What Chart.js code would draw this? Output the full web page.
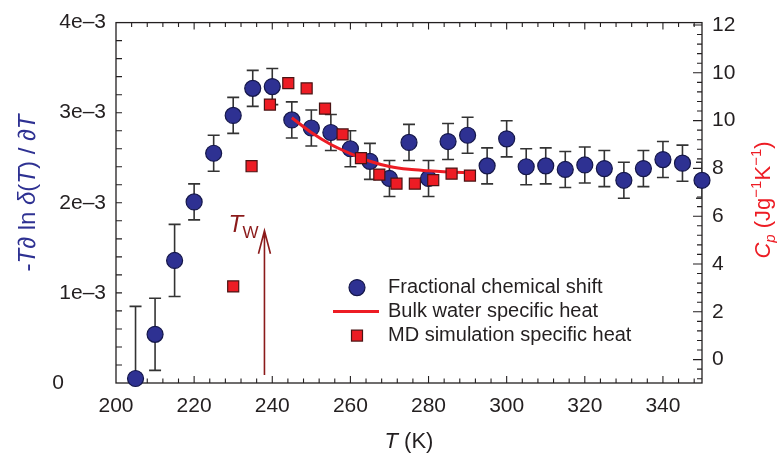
<!DOCTYPE html>
<html>
<head>
<meta charset="utf-8">
<script src="https://cdn.jsdelivr.net/npm/chart.js@4.4.0/dist/chart.umd.min.js"></script>
<style>
  html, body { margin: 0; padding: 0; background: #fff; }
</style>
</head>
<body>
<canvas id="chart" width="777" height="458"></canvas>
<script>
// === Data ===
// Fractional chemical shift: T (K), value (x1e-3), error bar half height (x1e-3)
var shiftT   = [205, 210, 215, 220, 225, 230, 235, 240, 245, 250, 255, 260, 265, 270, 275,
                280, 285, 290, 295, 300, 305, 310, 315, 320, 325, 330, 335, 340, 345, 350]
var shiftVal = [0.05, 0.54, 1.36, 2.01, 2.55, 2.97, 3.27, 3.29, 2.92, 2.83, 2.78, 2.60, 2.46, 2.27, 2.67,
                2.27, 2.68, 2.75, 2.41, 2.71, 2.40, 2.41, 2.37, 2.42, 2.38, 2.25, 2.38, 2.48, 2.44, 2.25]
var shiftErr = [0.80, 0.40, 0.40, 0.20, 0.20, 0.20, 0.20, 0.20, 0.20, 0.20, 0.20, 0.20, 0.20, 0.20, 0.20,
                0.20, 0.20, 0.20, 0.20, 0.20, 0.20, 0.20, 0.20, 0.20, 0.20, 0.20, 0.20, 0.20, 0.20, 0.20]

// MD simulation specific heat (right axis units)
var mdT  = [230, 234.7, 239.4, 244.1, 248.8, 253.5, 258, 262.7, 267.4, 271.8, 276.5, 281.2, 285.9, 290.6]
var mdCp = [3.06, 8.09, 10.67, 11.57, 11.35, 10.5, 9.42, 8.43, 7.74, 7.36, 7.36, 7.51, 7.78, 7.70]

// Bulk water specific heat (right axis units)
var bulkT  = [245, 250, 255, 260, 265, 270, 275, 280, 285, 290.6]
var bulkCp = [10.12, 9.5, 9.0, 8.62, 8.3, 8.08, 7.96, 7.9, 7.85, 7.81]

// Axes
var xTicks      = [200, 220, 240, 260, 280, 300, 320, 340]
var leftTicks   = [0, 1, 2, 3, 4]
var rightTicks  = [0, 2, 4, 6, 8, 10, 12, 14]
var rightLabels = ['0', '2', '4', '6', '8', '10', '10', '12']

// T_W marker: temperature and arrow span (left axis units)
var TW = 238
var twArrow = [0.09, 1.69]

var FONT = '"Liberation Sans", Arial, Helvetica, sans-serif'
var INK = '#231f20'
var BLUE = '#2e3192'
var RED = '#ed1c24'
var DARKRED = '#8b1a1a'

function pts(xs, ys) {
    return xs.map(function(x, i) { return { x: x, y: ys[i] } })
}

// draw a string made of several styled parts, centred on (x, y), optionally rotated
function drawRich(ctx, parts, x, y, rot) {
    ctx.save()
    ctx.translate(x, y)
    ctx.rotate(rot || 0)
    ctx.textBaseline = 'alphabetic'
    ctx.textAlign = 'left'
    var w = 0
    parts.forEach(function(p) { ctx.font = p.f; p.w = ctx.measureText(p.t).width; w += p.w })
    var cx = -w / 2
    parts.forEach(function(p) {
        ctx.font = p.f
        ctx.fillStyle = p.c
        ctx.fillText(p.t, cx, 8 + (p.dy || 0))
        cx += p.w
    })
    ctx.restore()
}

// === Error bars (behind the markers) ===
var errorBars = {
    id: 'errorBars',
    beforeDatasetsDraw: function(chart) {
        var ctx = chart.ctx, a = chart.chartArea
        var x = chart.scales.x, y = chart.scales.y
        ctx.save()
        ctx.beginPath()
        ctx.rect(a.left, a.top, a.right - a.left, a.bottom - a.top)
        ctx.clip()
        ctx.strokeStyle = '#333'
        ctx.lineWidth = 1.6
        shiftT.forEach(function(t, i) {
            var px = x.getPixelForValue(t)
            var top = y.getPixelForValue(shiftVal[i] + shiftErr[i])
            var bot = y.getPixelForValue(shiftVal[i] - shiftErr[i])
            ctx.beginPath()
            ctx.moveTo(px, top); ctx.lineTo(px, bot)
            ctx.moveTo(px - 6, top); ctx.lineTo(px + 6, top)
            ctx.moveTo(px - 6, bot); ctx.lineTo(px + 6, bot)
            ctx.stroke()
        })
        ctx.restore()
    }
}

// === Frame, inward ticks, titles, T_W arrow, legend ===
var decorations = {
    id: 'decorations',
    beforeDatasetsDraw: function(chart) {
        var ctx = chart.ctx, a = chart.chartArea
        var x = chart.scales.x, y = chart.scales.y, y2 = chart.scales.y2
        ctx.save()
        ctx.strokeStyle = INK
        ctx.lineWidth = 1.3
        ctx.strokeRect(a.left, a.top, a.right - a.left, a.bottom - a.top)

        ctx.lineWidth = 1.1
        ctx.beginPath()
        // bottom / top ticks every 4 K, long ones on the 20 K labels
        for (var t = 204; t < 350; t += 4) {
            var px = x.getPixelForValue(t)
            var len = (t % 20 === 0) ? 7 : 4.5
            ctx.moveTo(px, a.bottom); ctx.lineTo(px, a.bottom - len)
            ctx.moveTo(px, a.top); ctx.lineTo(px, a.top + len)
        }
        // left ticks every 0.2e-3
        for (var k = 1; k < 20; k++) {
            var py = y.getPixelForValue(k * 0.2)
            ctx.moveTo(a.left, py); ctx.lineTo(a.left + 6, py)
        }
        // right ticks every 0.4 units, long on labelled values
        for (var j = -2; j <= 35; j++) {
            var v = j * 0.4
            if (v > 14.05) break
            var py2 = y2.getPixelForValue(v)
            var l2 = (j % 5 === 0) ? 9 : 5
            ctx.moveTo(a.right, py2); ctx.lineTo(a.right - l2, py2)
        }
        ctx.stroke()

        // T_W arrow
        var ax = x.getPixelForValue(TW)
        var ay0 = y.getPixelForValue(twArrow[0])
        var ay1 = y.getPixelForValue(twArrow[1])
        ctx.strokeStyle = DARKRED
        ctx.lineWidth = 1.6
        ctx.beginPath()
        ctx.moveTo(ax, ay0); ctx.lineTo(ax, ay1)
        ctx.moveTo(ax - 6, ay1 + 23); ctx.lineTo(ax, ay1); ctx.lineTo(ax + 6, ay1 + 23)
        ctx.stroke()
        ctx.fillStyle = DARKRED
        ctx.textBaseline = 'alphabetic'
        ctx.font = 'italic 24px ' + FONT
        ctx.fillText('T', ax - 36, ay1 + 1)
        ctx.font = '17px ' + FONT
        ctx.fillText('W', ax - 22, ay1 + 7)

        // legend
        var lx = a.left + 241, ly = a.top + 265
        ctx.fillStyle = BLUE
        ctx.strokeStyle = '#15174a'
        ctx.lineWidth = 1.2
        ctx.beginPath(); ctx.arc(lx, ly, 8, 0, Math.PI * 2); ctx.fill(); ctx.stroke()
        ctx.strokeStyle = RED
        ctx.lineWidth = 3
        ctx.beginPath(); ctx.moveTo(lx - 24, ly + 24); ctx.lineTo(lx + 22, ly + 24); ctx.stroke()
        ctx.fillStyle = RED
        ctx.strokeStyle = '#4a1414'
        ctx.lineWidth = 1.2
        ctx.fillRect(lx - 5.5, ly + 48 - 5.5, 11, 11)
        ctx.strokeRect(lx - 5.5, ly + 48 - 5.5, 11, 11)
        ctx.fillStyle = INK
        ctx.font = '20px ' + FONT
        ctx.textBaseline = 'middle'
        ctx.fillText('Fractional chemical shift', lx + 31, ly)
        ctx.fillText('Bulk water specific heat', lx + 31, ly + 24)
        ctx.fillText('MD simulation specific heat', lx + 31, ly + 48)
        ctx.restore()

        // axis titles
        var n22 = '22px ' + FONT, i22 = 'italic 22px ' + FONT
        var n24 = '24px ' + FONT, i24 = 'italic 24px ' + FONT
        drawRich(ctx, [
            { t: '-', f: n24, c: BLUE }, { t: 'T', f: i24, c: BLUE }, { t: '\u2202 ln ', f: n24, c: BLUE },
            { t: '\u03b4', f: i24, c: BLUE }, { t: '(', f: n24, c: BLUE }, { t: 'T', f: i24, c: BLUE },
            { t: ') / \u2202', f: n24, c: BLUE }, { t: 'T', f: i24, c: BLUE }
        ], 27, 193, -Math.PI / 2)
        drawRich(ctx, [
            { t: 'C', f: i22, c: RED }, { t: 'p', f: 'italic 15px ' + FONT, c: RED, dy: 5 },
            { t: ' (Jg', f: n22, c: RED }, { t: '\u22121', f: '15px ' + FONT, c: RED, dy: -9 },
            { t: 'K', f: n22, c: RED }, { t: '\u22121', f: '15px ' + FONT, c: RED, dy: -9 },
            { t: ')', f: n22, c: RED }
        ], 762, 200, -Math.PI / 2)
        drawRich(ctx, [
            { t: 'T', f: i22, c: INK }, { t: ' (K)', f: n22, c: INK }
        ], (a.left + a.right) / 2, 440, 0)
    }
}

var tickFont = { family: FONT, size: 21 }

var config = {
    type: 'scatter',
    data: {
        datasets: [{
            label: 'MD simulation specific heat',
            data: pts(mdT, mdCp),
            yAxisID: 'y2',
            pointStyle: 'rect',
            pointRadius: 7.8,
            pointHoverRadius: 7.8,
            backgroundColor: RED,
            borderColor: '#4a1414',
            borderWidth: 1.2,
            clip: false,
            order: 1
        }, {
            label: 'Bulk water specific heat',
            type: 'line',
            data: pts(bulkT, bulkCp),
            yAxisID: 'y2',
            borderColor: RED,
            borderWidth: 3,
            pointRadius: 0,
            cubicInterpolationMode: 'monotone',
            fill: false,
            order: 2
        }, {
            label: 'Fractional chemical shift',
            data: pts(shiftT, shiftVal),
            yAxisID: 'y',
            pointStyle: 'circle',
            pointRadius: 8,
            pointHoverRadius: 8,
            backgroundColor: BLUE,
            borderColor: '#15174a',
            borderWidth: 1.2,
            clip: false,
            order: 3
        }]
    },
    options: {
        responsive: false,
        animation: false,
        devicePixelRatio: 1,
        layout: { padding: { top: 18, left: 0, right: 0, bottom: 0 } },
        plugins: {
            legend: { display: false },
            tooltip: { enabled: false }
        },
        scales: {
            x: {
                type: 'linear',
                min: 200, max: 350,
                afterBuildTicks: function(ax) { ax.ticks = xTicks.map(function(v) { return { value: v } }) },
                afterFit: function(ax) { ax.height = 75 },
                grid: { display: false, drawTicks: false },
                border: { display: false },
                ticks: { font: tickFont, color: INK, padding: 11, maxRotation: 0 }
            },
            y: {
                position: 'left',
                min: 0, max: 4,
                afterBuildTicks: function(ax) { ax.ticks = leftTicks.map(function(v) { return { value: v } }) },
                afterFit: function(ax) { ax.width = 116 },
                grid: { display: false, drawTicks: false },
                border: { display: false },
                ticks: {
                    font: tickFont, color: INK, padding: 10,
                    callback: function(v) { return v === 0 ? '0\u2003\u2003' : v + 'e\u20133' }
                }
            },
            y2: {
                position: 'right',
                min: -0.98, max: 14.1,
                afterBuildTicks: function(ax) { ax.ticks = rightTicks.map(function(v) { return { value: v } }) },
                afterFit: function(ax) { ax.width = 75 },
                grid: { display: false, drawTicks: false },
                border: { display: false },
                ticks: {
                    font: tickFont, color: INK, padding: 10,
                    callback: function(v) { return rightLabels[rightTicks.indexOf(v)] }
                }
            }
        }
    },
    plugins: [decorations, errorBars]
}

new Chart(document.getElementById('chart').getContext('2d'), config)
</script>
</body>
</html>
